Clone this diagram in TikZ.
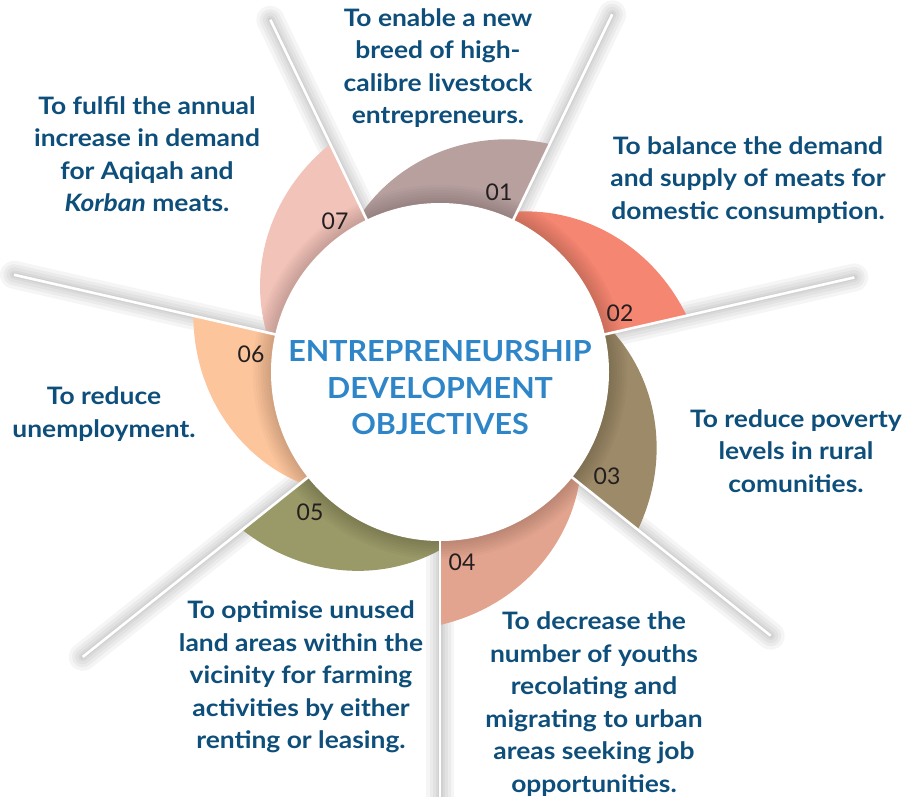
\documentclass[tikz,border=0pt]{standalone}
\usepackage{fontspec}
\setmainfont{Lato}
\newfontfamily\objfont{Lato}[FakeStretch=1.1]
\newfontfamily\ttlfont{Lato}[FakeStretch=1.05]
\definecolor{c1}{HTML}{B8A09F}
\definecolor{c2}{HTML}{F58671}
\definecolor{c3}{HTML}{9C8A68}
\definecolor{c4}{HTML}{E3A48F}
\definecolor{c5}{HTML}{9A9968}
\definecolor{c6}{HTML}{FDC59C}
\definecolor{c7}{HTML}{F2C3B9}
\definecolor{txt}{HTML}{0D4E7A}
\definecolor{ttlc}{HTML}{2E86C8}
\definecolor{numc}{HTML}{231F20}
\pgfmathdeclarefunction{rr}{1}{\pgfmathparse{178+75*(0.7*#1+0.3*sin(90*#1))}}
\tikzset{
  obj/.style={align=center, text=txt, font=\objfont\bfseries\fontsize{24}{32.5}\selectfont, inner sep=0pt},
  ttl/.style={align=center, text=ttlc, font=\ttlfont\bfseries\fontsize{29}{36.5}\selectfont, inner sep=0pt},
  num/.style={text=numc, font=\fontsize{23}{23}\selectfont, inner sep=0pt},
  rayshade/.style={black, opacity=0.038, line cap=round},
  rayline/.style={white, line width=2.6pt},
  sp/.style={domain=0:1, samples=60, smooth}
}
\begin{document}
\begin{tikzpicture}[x=1pt,y=-1pt]
\useasboundingbox (0,0) rectangle (907,797);
\coordinate (ctr) at (440,372);
% ray end points
\foreach \a/\L/\nm in {115.714/391/A, 64.286/397/B, 12.857/425/C, -38.571/423/D, -90/425/E, -141.429/457/F, 167.143/437/G}{
  \coordinate (r\nm) at ({440+\L*cos(\a)},{372-\L*sin(\a)});
  \coordinate (q\nm) at ({440+150*cos(\a)},{372-150*sin(\a)});
}
% blurred shadows of the rays
\foreach \nm in {A,B,C,D,E,F,G}{
  \foreach \w in {28,21,15,9,5}{
    \draw[rayshade, line width=\w pt] (q\nm) -- (r\nm);
  }
}
% segments
\foreach \s/\c in {115.714/c1, 64.286/c2, 12.857/c3, -38.571/c4, -90/c5, -141.429/c6, -192.857/c7}{
  \fill[\c] (ctr) -- plot[sp] ({440+rr(\x)*cos(\s-51.4286*\x)},{372-rr(\x)*sin(\s-51.4286*\x)}) -- cycle;
  \begin{scope}
    \clip (ctr) -- plot[sp] ({440+rr(\x)*cos(\s-51.4286*\x)},{372-rr(\x)*sin(\s-51.4286*\x)}) -- cycle;
    \foreach \k in {1,...,7}{
      \fill[black, opacity=0.022] (ctr) circle[radius={169pt+2.6pt*\k}];
    }
  \end{scope}
}
% white rays
\foreach \nm in {A,B,C,D,E,F,G}{
  \draw[rayline] (q\nm) -- (r\nm);
}
% hub
\node[circle, fill=white, minimum size=338pt, inner sep=0pt] (hub) at (ctr) {};
\node[ttl] (title) at (440,388) {ENTREPRENEURSHIP\\DEVELOPMENT\\OBJECTIVES};
% numbers
\node[num] (n1) at (499,192) {01};
\node[num] (n2) at (620,313) {02};
\node[num] (n3) at (607,476) {03};
\node[num] (n4) at (462,562) {04};
\node[num] (n5) at (310,512) {05};
\node[num] (n6) at (251,354) {06};
\node[num] (n7) at (335,221) {07};
% objectives
\node[obj] (t1) at (438,68) {To enable a new\\breed of high-\\calibre livestock\\entrepreneurs.};
\node[obj] (t2) at (748,180) {To balance the demand\\and supply of meats for\\domestic consumption.};
\node[obj] (t3) at (796,451) {To reduce poverty\\levels in rural\\comunities.};
\node[obj] (t4) at (594,704) {To decrease the\\number of youths\\recolating and\\migrating to urban\\areas seeking job\\opportunities.};
\node[obj] (t5) at (301,677) {To optimise unused\\land areas within the\\vicinity for farming\\activities by either\\renting or leasing.};
\node[obj] (t6) at (104,414) {To reduce\\unemployment.};
\node[obj] (t7) at (147,154) {To fulfil the annual\\increase in demand\\for Aqiqah and\\\textit{Korban} meats.};
\end{tikzpicture}
\end{document}
